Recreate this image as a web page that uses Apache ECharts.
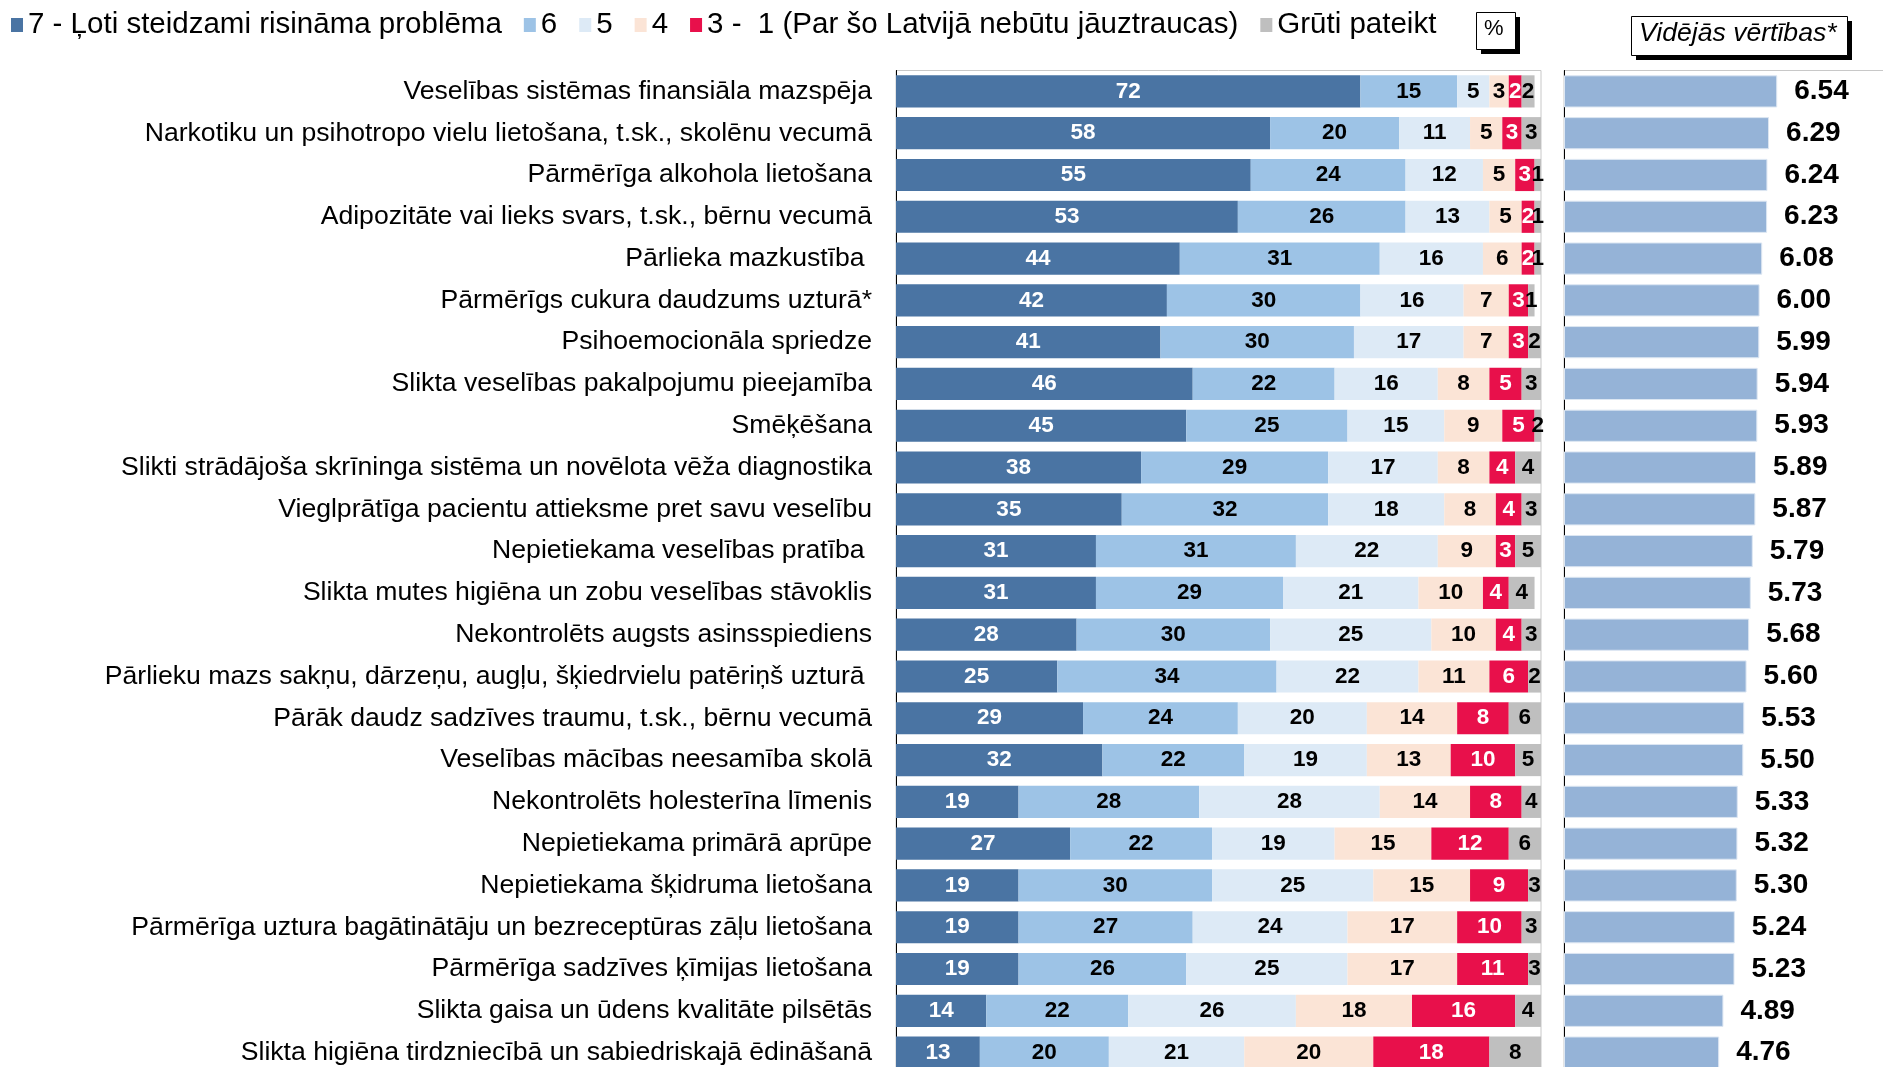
<!DOCTYPE html>
<html>
<head>
<meta charset="utf-8">
<title>Sabiedrības veselības problēmas</title>
<script src="https://cdn.jsdelivr.net/npm/echarts@6/dist/echarts.min.js"></script>
<style>
    body { margin: 0; background: #fff; }
    #main { width: 1883px; height: 1067px; }
</style>
</head>
<body>
<div id="main"></div>
<script type="text/javascript">
    // kategorijas no augšas uz leju
    const categories = [
        'Veselības sistēmas finansiāla mazspēja',
        'Narkotiku un psihotropo vielu lietošana, t.sk., skolēnu vecumā',
        'Pārmērīga alkohola lietošana',
        'Adipozitāte vai lieks svars, t.sk., bērnu vecumā',
        'Pārlieka mazkustība ',
        'Pārmērīgs cukura daudzums uzturā*',
        'Psihoemocionāla spriedze',
        'Slikta veselības pakalpojumu pieejamība',
        'Smēķēšana',
        'Slikti strādājoša skrīninga sistēma un novēlota vēža diagnostika',
        'Vieglprātīga pacientu attieksme pret savu veselību',
        'Nepietiekama veselības pratība ',
        'Slikta mutes higiēna un zobu veselības stāvoklis',
        'Nekontrolēts augsts asinsspiediens',
        'Pārlieku mazs sakņu, dārzeņu, augļu, šķiedrvielu patēriņš uzturā ',
        'Pārāk daudz sadzīves traumu, t.sk., bērnu vecumā',
        'Veselības mācības neesamība skolā',
        'Nekontrolēts holesterīna līmenis',
        'Nepietiekama primārā aprūpe',
        'Nepietiekama šķidruma lietošana',
        'Pārmērīga uztura bagātinātāju un bezreceptūras zāļu lietošana',
        'Pārmērīga sadzīves ķīmijas lietošana',
        'Slikta gaisa un ūdens kvalitāte pilsētās',
        'Slikta higiēna tirdzniecībā un sabiedriskajā ēdināšanā'
    ];

    const seriesNames = [
        '7 - Ļoti steidzami risināma problēma',
        '6',
        '5',
        '4',
        '3 -  1 (Par šo Latvijā nebūtu jāuztraucas)',
        'Grūti pateikt'
    ];

    const val7 = [72, 58, 55, 53, 44, 42, 41, 46, 45, 38, 35, 31, 31, 28, 25, 29, 32, 19, 27, 19, 19, 19, 14, 13];
    const val6 = [15, 20, 24, 26, 31, 30, 30, 22, 25, 29, 32, 31, 29, 30, 34, 24, 22, 28, 22, 30, 27, 26, 22, 20];
    const val5 = [5, 11, 12, 13, 16, 16, 17, 16, 15, 17, 18, 22, 21, 25, 22, 20, 19, 28, 19, 25, 24, 25, 26, 21];
    const val4 = [3, 5, 5, 5, 6, 7, 7, 8, 9, 8, 8, 9, 10, 10, 11, 14, 13, 14, 15, 15, 17, 17, 18, 20];
    const val31 = [2, 3, 3, 2, 2, 3, 3, 5, 5, 4, 4, 3, 4, 4, 6, 8, 10, 8, 12, 9, 10, 11, 16, 18];
    const valGruti = [2, 3, 1, 1, 1, 1, 2, 3, 2, 4, 3, 5, 4, 3, 2, 6, 5, 4, 6, 3, 3, 3, 4, 8];

    const averages = [6.54, 6.29, 6.24, 6.23, 6.08, 6.00, 5.99, 5.94, 5.93, 5.89, 5.87, 5.79, 5.73, 5.68, 5.60, 5.53, 5.50, 5.33, 5.32, 5.30, 5.24, 5.23, 4.89, 4.76];

    const colors = ['#4A74A3', '#9DC3E6', '#DDEAF6', '#FBE4D6', '#E8104B', '#BFBFBF'];
    const labelColors = ['#fff', '#000', '#000', '#000', '#fff', '#000'];

    const FONT = '"Liberation Sans", Arial, sans-serif';

    var chartDom = document.getElementById('main');
    var myChart = echarts.init(chartDom, null, { renderer: 'canvas' });

    var stackData = [val7, val6, val5, val4, val31, valGruti];
    var barSeries = stackData.map(function (d, i) {
        return {
            name: seriesNames[i],
            type: 'bar',
            stack: 'total',
            xAxisIndex: 0,
            yAxisIndex: 0,
            barCategoryGap: '23%',
            data: d,
            itemStyle: { color: colors[i] },
            label: {
                show: true,
                position: 'inside',
                color: labelColors[i],
                fontFamily: FONT,
                fontWeight: 'bold',
                fontSize: 22.5
            },
            emphasis: { disabled: true }
        };
    });

    barSeries.push({
        name: 'Vidējās vērtības',
        type: 'bar',
        xAxisIndex: 1,
        yAxisIndex: 1,
        barCategoryGap: '23%',
        data: averages,
        itemStyle: { color: '#95B3D7', borderColor: '#DCE6F2', borderWidth: 1 },
        label: {
            show: true,
            position: 'right',
            distance: 17,
            color: '#000',
            fontFamily: FONT,
            fontWeight: 'bold',
            fontSize: 28,
            formatter: function (p) { return p.value.toFixed(2); }
        },
        emphasis: { disabled: true }
    });

    var option = {
        animation: false,
        backgroundColor: '#fff',
        textStyle: { fontFamily: FONT },
        legend: {
            data: seriesNames,
            left: 6,
            top: 5,
            itemWidth: 12,
            itemHeight: 14,
            itemGap: 22,
            icon: 'rect',
            selectedMode: false,
            textStyle: { fontFamily: FONT, fontSize: 29.5, color: '#000' }
        },
        // outerBoundsMode none: zīmējums drīkst iziet ārpus attēla apakšā un labajā pusē
        grid: [
            { left: 896, top: 70.5, width: 645, height: 1003, outerBoundsMode: 'none', show: true, borderColor: '#C8C8C8', borderWidth: 1 },
            { left: 1564, top: 70.5, width: 326, height: 1003, outerBoundsMode: 'none', show: true, borderColor: '#C8C8C8', borderWidth: 1 }
        ],
        xAxis: [
            { type: 'value', gridIndex: 0, min: 0, max: 100, show: false },
            { type: 'value', gridIndex: 1, min: 0, max: 10, show: false }
        ],
        yAxis: [
            {
                type: 'category',
                gridIndex: 0,
                inverse: true,
                data: categories,
                axisTick: { show: false },
                axisLine: { show: true, lineStyle: { color: '#000', width: 1 } },
                axisLabel: { color: '#000', fontFamily: FONT, fontSize: 26.6, margin: 24 }
            },
            {
                type: 'category',
                gridIndex: 1,
                inverse: true,
                data: categories,
                axisTick: { show: false },
                axisLine: { show: true, lineStyle: { color: '#000', width: 1 } },
                axisLabel: { show: false }
            }
        ],
        graphic: [
            // % lodziņš ar ēnu
            { type: 'rect', left: 1481, top: 17, shape: { width: 39, height: 37 }, style: { fill: '#000' }, z: 10 },
            { type: 'rect', left: 1476, top: 12, shape: { width: 39, height: 37 }, style: { fill: '#fff', stroke: '#000', lineWidth: 1 }, z: 11 },
            { type: 'text', left: 1484, top: 18, style: { text: '%', font: '22px "Liberation Sans", Arial, sans-serif', fill: '#000' }, z: 12 },
            // Vidējās vērtības lodziņš
            { type: 'rect', left: 1636, top: 21, shape: { width: 216, height: 39 }, style: { fill: '#000' }, z: 10 },
            { type: 'rect', left: 1631, top: 16, shape: { width: 216, height: 39 }, style: { fill: '#fff', stroke: '#000', lineWidth: 1 }, z: 11 },
            { type: 'text', left: 1639, top: 20, style: { text: 'Vidējās vērtības*', font: 'italic 26.6px "Liberation Sans", Arial, sans-serif', fill: '#000' }, z: 12 }
        ],
        series: barSeries
    };

    myChart.setOption(option);
    window.addEventListener('resize', myChart.resize);
</script>
</body>
</html>
